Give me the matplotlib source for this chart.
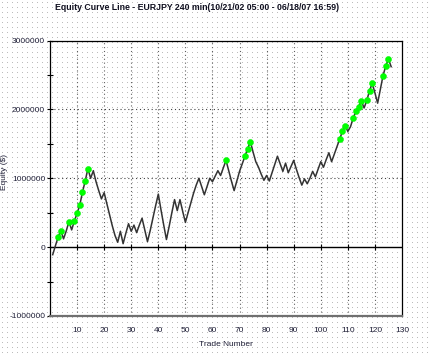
import numpy as np
import matplotlib
matplotlib.use('Agg')
import matplotlib.pyplot as plt
from matplotlib.ticker import MultipleLocator, FixedLocator

plt.rcParams['font.family'] = ['Liberation Sans', 'DejaVu Sans']

# Equity per trade (dollars)
trade_no = list(range(1, 127))
equity = [
    -110, 20, 145, 240, 120, 235, 370, 250, 380, 490,
    610, 800, 960, 1140, 1000, 1110, 950, 820, 700, 790,
    630, 470, 310, 170, 70, 230, 50, 200, 340, 230,
    320, 210, 320, 420, 250, 80, 240, 420, 600, 770,
    540, 320, 110, 300, 500, 690, 530, 690, 520, 360,
    500, 640, 780, 900, 1000, 880, 760, 880, 1000, 950,
    1030, 1110, 1040, 1150, 1260, 1110, 960, 820, 960, 1100,
    1210, 1320, 1430, 1530, 1380, 1240, 1160, 1060, 970, 1040,
    960, 1080, 1200, 1320, 1210, 1100, 1220, 1080, 1170, 1260,
    1130, 1010, 900, 990, 920, 1000, 1100, 1020, 1130, 1240,
    1160, 1270, 1370, 1240, 1350, 1460, 1570, 1680, 1760, 1680,
    1750, 1880, 1970, 2040, 2120, 2020, 2130, 2270, 2380, 2240,
    2090, 2290, 2490, 2630, 2730, 2620,
]
equity = [v * 1000 for v in equity]

# trades flagged as new equity highs (green dots)
new_high_trades = [3, 4, 7, 9, 10, 11, 12, 13, 14, 65, 72, 73, 74,
                   107, 108, 109, 112, 113, 114, 115, 117, 118, 119,
                   123, 124, 125]
new_high_equity = [equity[t - 1] for t in new_high_trades]

x_ticks = list(range(10, 131, 10))
y_ticks = [-1000000, 0, 1000000, 2000000, 3000000]

W, H = 429, 356
fig = plt.figure(figsize=(W / 100, H / 100), dpi=100)

# dotted background texture
bg = fig.add_axes([0, 0, 1, 1], zorder=-10)
tex = np.ones((H, W, 3))
tex[2::5, 2::5] = 0.74
bg.imshow(tex, aspect='auto', interpolation='nearest')
bg.axis('off')

ax = fig.add_axes([50 / W, 1 - 316 / H, 352 / W, 275.5 / H])
ax.patch.set_alpha(0)

ax.set_xlim(0, 130)
ax.set_ylim(-1000000, 3000000)

# grid
for xv in x_ticks[:-1]:
    ax.axvline(xv, color='#606060', lw=0.8, ls=(0, (1, 2.5)), zorder=1)
for yv in [1000000, 2000000]:
    ax.axhline(yv, color='#404040', lw=0.8, ls=(0, (1, 2.5)), zorder=1)

# zero line with small ticks
ax.axhline(0, color='black', lw=1.0, zorder=2)
ax.plot(x_ticks[:-1], [0] * len(x_ticks[:-1]), ls='none', marker='|',
        ms=5, mew=0.8, color='black', zorder=2)

ax.plot(trade_no, equity, color='#333333', lw=1.1, zorder=3)
ax.plot(new_high_trades, new_high_equity, ls='none', marker='o', ms=4.4,
        mfc='#00ff00', mec='#00ee00', mew=0.3, zorder=4)

ax.xaxis.set_major_locator(FixedLocator(x_ticks))
ax.set_xticklabels([str(v) for v in x_ticks])
ax.yaxis.set_major_locator(FixedLocator(y_ticks))
ax.set_yticklabels([str(v) for v in y_ticks])
ax.yaxis.set_minor_locator(MultipleLocator(500000))
ax.tick_params(axis='x', length=0, pad=8, labelsize=6, labelcolor='#202038')
ax.tick_params(axis='y', which='major', direction='inout', length=5, width=0.8,
               pad=1, labelsize=6, labelcolor='#202038')
ax.tick_params(axis='y', which='minor', direction='inout', length=5, width=0.8)

for s in ['left', 'right', 'top']:
    ax.spines[s].set_color('black')
    ax.spines[s].set_linewidth(0.9)
ax.spines['bottom'].set_color('#707070')
ax.spines['bottom'].set_linewidth(1.6)

ax.set_xlabel('Trade Number', fontsize=6, color='#202038', labelpad=5)

fig.text(197 / W, 1 - 8 / H, 'Equity Curve Line - EURJPY 240 min(10/21/02 05:00 - 06/18/07 16:59)',
         ha='center', va='center', fontsize=6.3, fontweight='bold', color='#101020')
fig.text(0.5 / W, 1 - 172 / H, 'Equity ($)', rotation=90, ha='left', va='center',
         fontsize=6, color='#202038')

fig.savefig('out.png', dpi=100)
